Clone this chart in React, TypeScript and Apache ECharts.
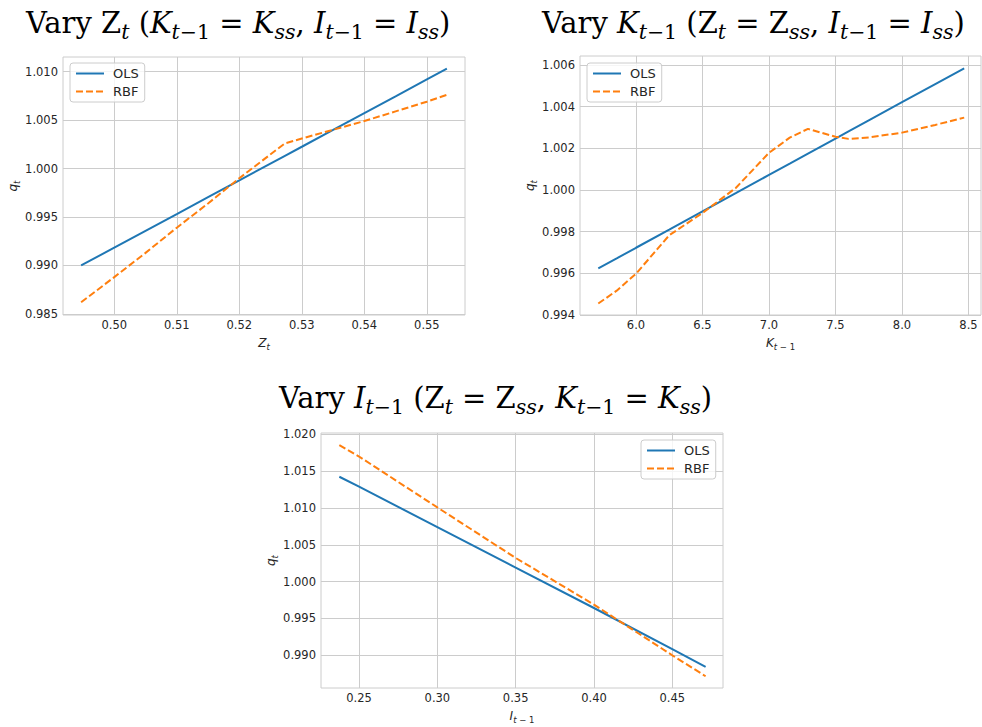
import React, { useEffect, useRef } from "react";
import * as echarts from "echarts";

// ---- Data ----
const zX = [0.4947, 0.5, 0.505, 0.51, 0.515, 0.52, 0.5273, 0.53, 0.535, 0.54, 0.545, 0.55, 0.5532];
const zOLS = [0.99, 0.99184, 0.99358, 0.99531, 0.99705, 0.99878, 1.00132, 1.00225, 1.00398, 1.00572, 1.00745, 1.00919, 1.0103];
const zRBF = [0.9862, 0.9888, 0.9913, 0.9939, 0.9964, 0.999, 1.0026, 1.0031, 1.004, 1.0049, 1.0059, 1.0069, 1.0076];

const kX = [5.7165, 5.855, 6.0, 6.25, 6.5, 6.75, 7.0, 7.156, 7.293, 7.5, 7.598, 7.75, 8.0, 8.25, 8.4677];
const kOLS = [0.99623, 0.99671, 0.99722, 0.99809, 0.99897, 0.99984, 1.00072, 1.00126, 1.00174, 1.00246, 1.00281, 1.00334, 1.00421, 1.00508, 1.00584];
const kRBF = [0.99454, 0.99516, 0.99597, 0.99782, 0.99889, 1.00009, 1.00178, 1.00251, 1.00293, 1.00255, 1.00245, 1.00252, 1.00275, 1.00312, 1.00347];

const iX = [0.2374, 0.25, 0.3, 0.35, 0.4, 0.45, 0.4713];
const iOLS = [1.01425, 1.0129, 1.0074, 1.0019, 0.9964, 0.9908, 0.9884];
const iRBF = [1.01856, 1.017, 1.01008, 1.00321, 0.99686, 0.98997, 0.98712];

const zTicks = [0.5, 0.51, 0.52, 0.53, 0.54, 0.55];
const zYTicks = [0.985, 0.99, 0.995, 1.0, 1.005, 1.01];
const kTicks = [6.0, 6.5, 7.0, 7.5, 8.0, 8.5];
const kYTicks = [0.994, 0.996, 0.998, 1.0, 1.002, 1.004, 1.006];
const iTicks = [0.25, 0.3, 0.35, 0.4, 0.45];
const iYTicks = [0.99, 0.995, 1.0, 1.005, 1.01, 1.015, 1.02];

const seriesNames = ["OLS", "RBF"];

const SANS = "'DejaVu Sans', 'Liberation Sans', sans-serif";
const SERIF = "'DejaVu Serif', 'Liberation Serif', serif";
const GRID_C = "#cccccc";
const TXT_C = "#262626";
const BLUE = "#1f77b4";
const ORANGE = "#ff7f0e";

const pair = (xs: number[], ys: number[]) => xs.map((x, i) => [x, ys[i]]);

const titleRich = {
  a: { fontFamily: SERIF, fontSize: 29, fontWeight: "normal", color: "#000", lineHeight: 36 },
  i: { fontFamily: SERIF, fontSize: 29, fontWeight: "normal", fontStyle: "italic", color: "#000", lineHeight: 36 },
  si: { fontFamily: SERIF, fontSize: 20.5, fontWeight: "normal", fontStyle: "italic", color: "#000", padding: [18, 0, 0, 0] },
  sa: { fontFamily: SERIF, fontSize: 20.5, fontWeight: "normal", color: "#000", padding: [18, 0, 0, 0] },
};

const nameRich = {
  i: { fontFamily: SANS, fontSize: 12, fontStyle: "italic", color: TXT_C },
  s: { fontFamily: SANS, fontSize: 8.5, fontStyle: "italic", color: TXT_C, padding: [7, 0, 0, 0] },
  u: { fontFamily: SANS, fontSize: 8.5, color: TXT_C, padding: [7, 0, 0, 0] },
};

function xAxis(idx: number, min: number, max: number, ticks: number[], dec: number, name: string) {
  return {
    type: "value",
    gridIndex: idx,
    min,
    max,
    name,
    nameLocation: "middle",
    nameGap: 20,
    nameTextStyle: { rich: nameRich },
    axisLine: { show: false },
    axisTick: { show: false, customValues: ticks },
    axisLabel: {
      customValues: ticks,
      formatter: (v: number) => v.toFixed(dec),
      color: TXT_C,
      fontFamily: SANS,
      fontSize: 11.5,
      margin: 4,
    },
    splitLine: { show: true, lineStyle: { color: GRID_C, width: 1 } },
  };
}

function yAxis(idx: number, min: number, max: number, ticks: number[], dec: number) {
  return {
    type: "value",
    gridIndex: idx,
    min,
    max,
    name: "{i|q}{s|t}",
    nameLocation: "middle",
    nameGap: 41,
    nameRotate: 90,
    nameTextStyle: { rich: nameRich },
    axisLine: { show: false },
    axisTick: { show: false, customValues: ticks },
    axisLabel: {
      customValues: ticks,
      formatter: (v: number) => v.toFixed(dec),
      color: TXT_C,
      fontFamily: SANS,
      fontSize: 11.5,
      margin: 5,
    },
    splitLine: { show: true, lineStyle: { color: GRID_C, width: 1 } },
  };
}

function legend(left: number, top: number) {
  return {
    left,
    top,
    orient: "vertical",
    data: seriesNames,
    itemWidth: 28,
    itemHeight: 14,
    itemGap: 5,
    padding: [4, 6, 4, 5],
    backgroundColor: "rgba(255,255,255,0.8)",
    borderColor: GRID_C,
    borderWidth: 1,
    borderRadius: 3,
    itemStyle: { opacity: 0 },
    textStyle: { color: TXT_C, fontFamily: SANS, fontSize: 13, padding: [0, 0, 0, 4] },
    selectedMode: false,
  };
}

function lineSeries(name: string, idx: number, data: number[][]) {
  const isOLS = name === "OLS";
  return {
    type: "line",
    name,
    xAxisIndex: idx,
    yAxisIndex: idx,
    data,
    symbol: "none",
    showSymbol: false,
    lineStyle: {
      color: isOLS ? BLUE : ORANGE,
      width: 2,
      type: isOLS ? "solid" : [7, 3],
    },
    itemStyle: { color: isOLS ? BLUE : ORANGE },
    z: isOLS ? 2 : 3,
  };
}

const titleTextStyle = { fontWeight: "normal", rich: titleRich };

export default function App() {
  const ref = useRef<HTMLDivElement>(null);
  useEffect(() => {
    if (!ref.current) return;
    const chart = echarts.init(ref.current, null, { renderer: "svg" });
    const option = {
      animation: false,
      backgroundColor: "#ffffff",
      title: [
        {
          left: 21,
          top: -2,
          text: "{a|Vary Z}{si|t}{a| (}{i|K}{si|t}{sa|−1}{a| = }{i|K}{si|ss}{a|, }{i|I}{si|t}{sa|−1}{a| = }{i|I}{si|ss}{a|)}",
          textStyle: titleTextStyle,
        },
        {
          left: 537,
          top: -2,
          text: "{a|Vary }{i|K}{si|t}{sa|−1}{a| (Z}{si|t}{a| = Z}{si|ss}{a|, }{i|I}{si|t}{sa|−1}{a| = }{i|I}{si|ss}{a|)}",
          textStyle: titleTextStyle,
        },
        {
          left: 274,
          top: 373,
          text: "{a|Vary }{i|I}{si|t}{sa|−1}{a| (Z}{si|t}{a| = Z}{si|ss}{a|, }{i|K}{si|t}{sa|−1}{a| = }{i|K}{si|ss}{a|)}",
          textStyle: titleTextStyle,
        },
      ],
      grid: [
        { left: 63, top: 57, width: 402, height: 258, show: true, borderColor: GRID_C, borderWidth: 1, backgroundColor: "transparent" },
        { left: 580, top: 56, width: 401, height: 259, show: true, borderColor: GRID_C, borderWidth: 1, backgroundColor: "transparent" },
        { left: 321, top: 433, width: 402, height: 255, show: true, borderColor: GRID_C, borderWidth: 1, backgroundColor: "transparent" },
      ],
      xAxis: [
        xAxis(0, 0.4918, 0.5561, zTicks, 2, "{i|Z}{s|t}"),
        xAxis(1, 5.579, 8.594, kTicks, 1, "{i|K}{s|t}{u| − 1}"),
        xAxis(2, 0.2257, 0.4824, iTicks, 2, "{i|I}{s|t}{u| − 1}"),
      ],
      yAxis: [
        yAxis(0, 0.98489, 1.01151, zYTicks, 3),
        yAxis(1, 0.99399, 1.00643, kYTicks, 3),
        yAxis(2, 0.98552, 1.0202, iYTicks, 3),
      ],
      legend: [legend(70, 63), legend(587, 63), legend(641, 440)],
      series: [
        lineSeries("OLS", 0, pair(zX, zOLS)),
        lineSeries("RBF", 0, pair(zX, zRBF)),
        lineSeries("OLS", 1, pair(kX, kOLS)),
        lineSeries("RBF", 1, pair(kX, kRBF)),
        lineSeries("OLS", 2, pair(iX, iOLS)),
        lineSeries("RBF", 2, pair(iX, iRBF)),
      ],
    };
    chart.setOption(option as any);
    return () => chart.dispose();
  }, []);
  return (
    <div
      ref={ref}
      style={{ position: "fixed", left: 0, top: 0, width: 982, height: 727, background: "#fff" }}
    />
  );
}
